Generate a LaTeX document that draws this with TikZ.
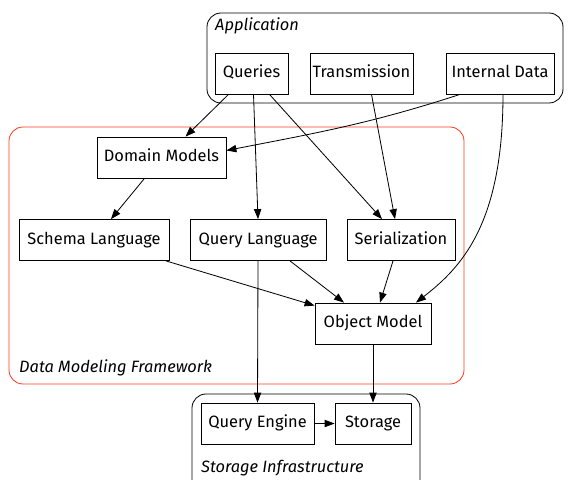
\documentclass[tikz,border=0pt]{standalone}
\usepackage{fontspec}
\setmainfont{Fira Sans}
\usepackage{tikz}
\usetikzlibrary{arrows.meta,positioning,calc}
\newdimen\px \px=0.03cm
\definecolor{frameworkred}{RGB}{250,60,30}
\tikzset{>={Triangle[length=3mm,width=2.2mm]}}

\begin{document}
\begin{tikzpicture}[x=0.03cm, y=-0.03cm, every node/.style={font=\fontsize{14}{16}\selectfont},
		box/.style={draw, line width=0.7pt, rectangle, minimum height=41\px, inner sep=0pt, text height=10pt, text depth=3pt},
		cluster/.style={draw, line width=0.7pt, rounded corners=14\px},
		clusterlabel/.style={anchor=base west, inner sep=0pt, font=\fontsize{14}{16}\selectfont\itshape},
		edge/.style={->, line width=0.7pt}]
			\useasboundingbox (0,0) rectangle (568,479);
			\draw[cluster] (207,13) rectangle (563,103);
			\node[clusterlabel] (applabel) at (215,31) {Application};
			\draw[cluster, frameworkred] (9,127) rectangle (464,384);
			\node[clusterlabel] (dmflabel) at (19,372) {Data Modeling Framework};
			\draw[cluster] (192,394) rectangle (420,500);
			\node[clusterlabel] (silabel) at (201,472) {Storage Infrastructure};
			\node[box, minimum width=73\px] (queries) at (251.5,73.5) {Queries};
			\node[box, minimum width=103\px] (transmission) at (361.5,73.5) {Transmission};
			\node[box, minimum width=108\px] (internal) at (500,73.5) {Internal Data};
			\node[box, minimum width=129\px] (domain) at (161.5,157.5) {Domain Models};
			\node[box, minimum width=150\px] (schema) at (94,240) {Schema Language};
			\node[box, minimum width=136\px] (querylang) at (258,240) {Query Language};
			\node[box, minimum width=108\px] (serial) at (401,240) {Serialization};
			\node[box, minimum width=116\px] (objmodel) at (373,323.5) {Object Model};
			\node[box, minimum width=113\px] (qengine) at (257.5,423.5) {Query Engine};
			\node[box, minimum width=76\px] (storage) at (373,423.5) {Storage};
			\draw[edge] ([xshift=-23\px]queries.south) -- ([xshift=24\px]domain.north);
			\draw[edge] ([xshift=2\px]queries.south) -- (querylang.north);
			\draw[edge] ([xshift=18\px]queries.south) -- ([xshift=-19\px]serial.north);
			\draw[edge] ([xshift=10\px]transmission.south) -- ([xshift=-6\px]serial.north);
			\draw[edge] ([xshift=-40\px]internal.south) to[out=198, in=11] ([yshift=7\px]domain.east);
			\draw[edge] ([xshift=3\px]internal.south) .. controls +(0,-130\px) and +(45\px,35\px) .. ([xshift=43\px]objmodel.north);
			\draw[edge] ([xshift=-17\px]domain.south) -- ([xshift=17\px]schema.north);
			\draw[edge] ([xshift=72\px]schema.south) -- ([yshift=-3\px]objmodel.north west);
			\draw[edge] ([xshift=32\px]querylang.south) -- ([xshift=-29\px]objmodel.north);
			\draw[edge] (querylang.south) -- (qengine.north);
			\draw[edge] ([xshift=-8\px]serial.south) -- ([xshift=7\px]objmodel.north);
			\draw[edge] (objmodel.south) -- (storage.north);
			\draw[edge] (qengine.east) -- (storage.west);
		\end{tikzpicture}
\end{document}
